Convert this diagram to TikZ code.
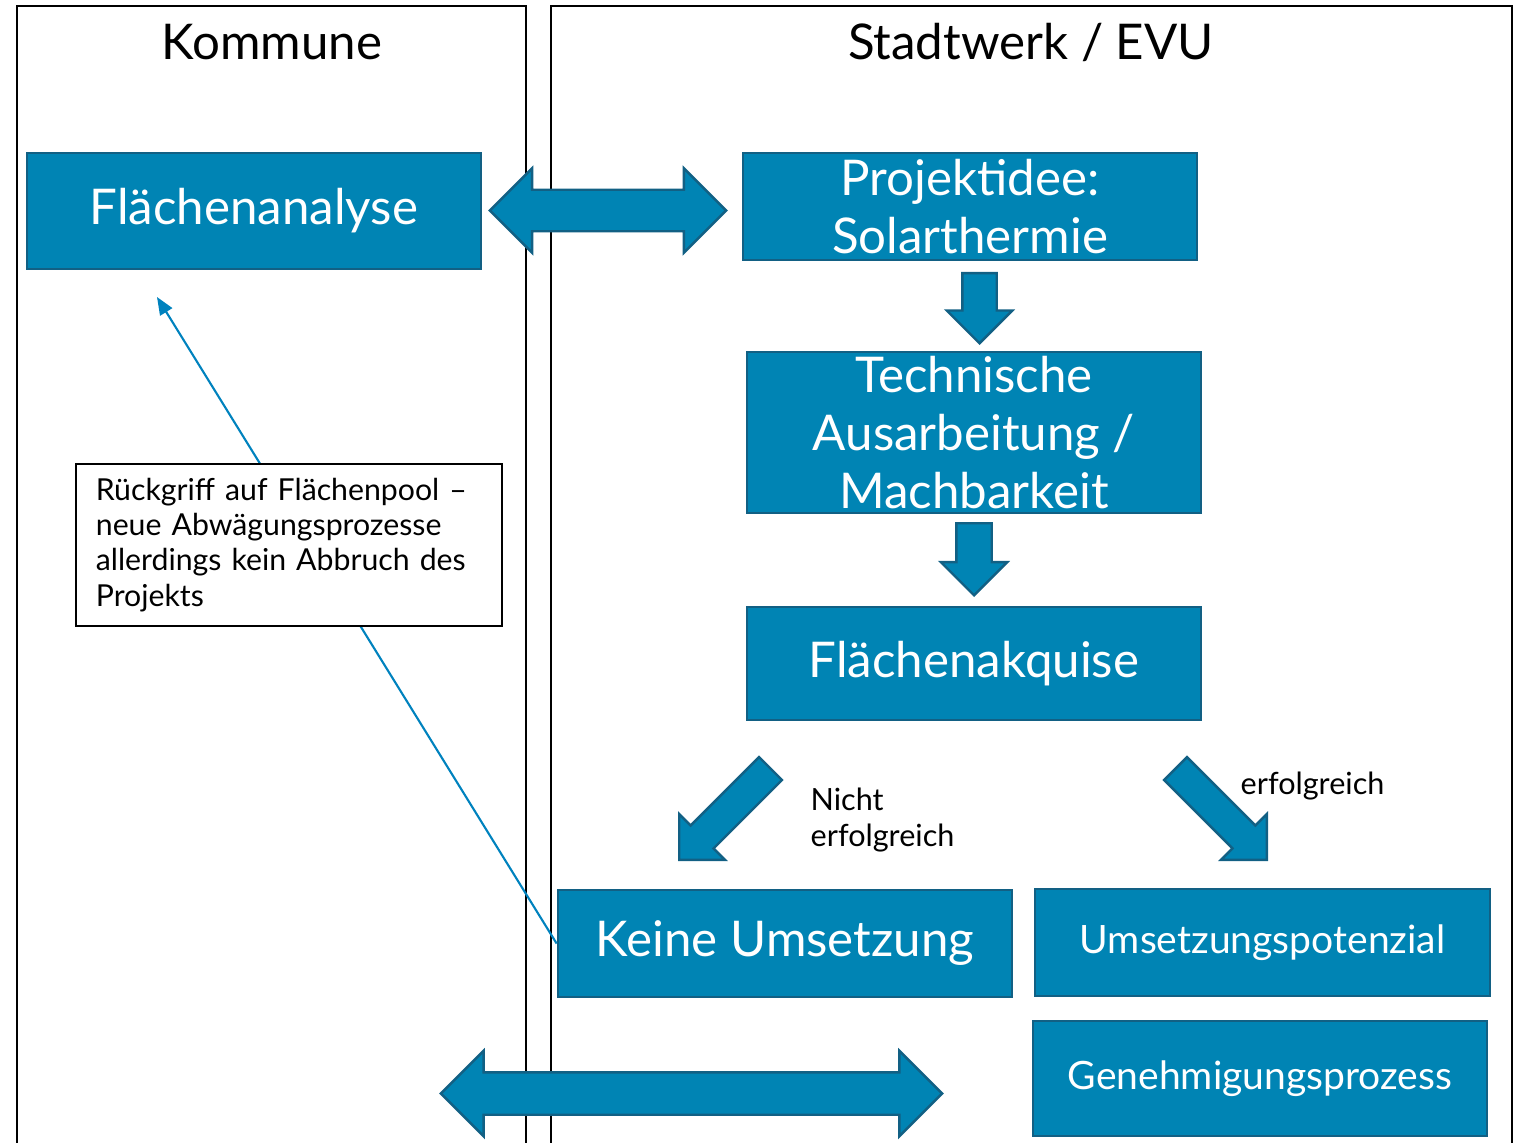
\documentclass[tikz,border=0pt]{standalone}
\usepackage{fontspec}
\setmainfont{Lato}
\usetikzlibrary{shapes.arrows,arrows.meta}
\definecolor{swblue}{RGB}{0,132,180}
\definecolor{swedge}{RGB}{18,96,132}
\definecolor{linkblue}{RGB}{0,130,190}

\begin{document}
\begin{tikzpicture}[
    x=0.01cm, y=-0.01cm,
    column/.style={draw=black, line width=0.8pt},
    coltitle/.style={font=\fontsize{14}{17}\selectfont},
    stepbox/.style={rectangle, draw=swedge, line width=0.7pt, fill=swblue,
                    text=white, align=center, inner sep=0pt,
                    minimum width=4.54cm, font=\fontsize{14}{16.4}\selectfont},
    smallbox/.style={stepbox, font=\fontsize{11.1}{13}\selectfont},
    notebox/.style={rectangle, draw=black, line width=0.5pt, fill=white,
                    align=left, text width=3.86cm, inner xsep=0.2cm,
                    minimum height=1.62cm, font=\fontsize{8.6}{10}\selectfont},
    edgelabel/.style={align=left, inner sep=0pt, font=\fontsize{8.7}{10}\selectfont},
    darrow/.style={double arrow, draw=swedge, fill=swblue, line width=0.7pt,
                   inner xsep=0pt, inner ysep=0.195cm, double arrow head extend=0.215cm},
    sarrow/.style={single arrow, draw=swedge, fill=swblue, line width=0.7pt,
                   inner xsep=0pt, single arrow head extend=0.16cm},
    link/.style={-{Triangle[length=5pt,width=4pt]}, draw=linkblue, line width=0.6pt},
  ]
  \useasboundingbox (0,0) rectangle (1519,1142);
  % columns
  \draw[column] (17,1160) -- (17,6) -- (526,6) -- (526,1160);
  \draw[column] (551,1160) -- (551,6) -- (1512,6) -- (1512,1160);
  \node[coltitle] (kommune) at (272,42) {Kommune};
  \node[coltitle] (stadtwerk) at (1031,42) {Stadtwerk / EVU};

  % process boxes
  \node[stepbox, minimum height=1.16cm] (analyse) at (254,211) {Flächenanalyse};
  \node[stepbox, minimum height=1.07cm] (idee) at (970,206.5)
        {Projektidee:\\Solarthermie};
  \node[stepbox, minimum height=1.61cm] (technik) at (974,432.5)
        {Technische\\Ausarbeitung /\\Machbarkeit};
  \node[stepbox, minimum height=1.13cm] (akquise) at (974,663.5) {Flächenakquise};
  \node[stepbox, minimum height=1.07cm] (keine) at (785,943.5) {Keine Umsetzung};
  \node[smallbox, minimum width=4.55cm, minimum height=1.07cm] (potenzial)
        at (1262.5,942.5) {Umsetzungspotenzial};
  \node[smallbox, minimum height=1.15cm] (genehm) at (1260,1078.5)
        {Genehmigungsprozess};

  % block arrows
  \node[darrow, minimum height=2.36cm] (abstimm) at (608,210.5) {};
  \node[sarrow, rotate=-90, minimum height=0.7cm, inner ysep=0.16cm,
        single arrow head extend=0.155cm, anchor=tip] (pfeilA) at (979.5,345) {};
  \node[sarrow, rotate=-90, minimum height=0.72cm, inner ysep=0.165cm,
        single arrow head extend=0.155cm, anchor=tip] (pfeilB) at (974,597) {};
  \node[sarrow, rotate=-135, minimum height=1.29cm, inner ysep=0.15cm,
        anchor=tip] (pfeilnein) at (678,861) {};
  \node[sarrow, rotate=-45, minimum height=1.29cm, inner ysep=0.15cm,
        anchor=tip] (pfeilja) at (1268,861) {};
  \node[darrow, minimum height=5.01cm, inner ysep=0.2cm] (austausch)
        at (691.5,1093.5) {};
  \node[edgelabel, anchor=west] (nicht) at (810,820) {Nicht\\erfolgreich};
  \node[edgelabel, anchor=west] (erfolg) at (1240,786) {erfolgreich};

  % feedback to the area pool
  \coordinate (pool) at (157,297);
  \draw[link] (keine.west) -- (pool);
  \node[notebox] (rueckgriff) at (289,545)
        {Rückgriff auf Flächenpool –\\neue Abwägungsprozesse\\allerdings kein Abbruch des\\Projekts};
\end{tikzpicture}
\end{document}
